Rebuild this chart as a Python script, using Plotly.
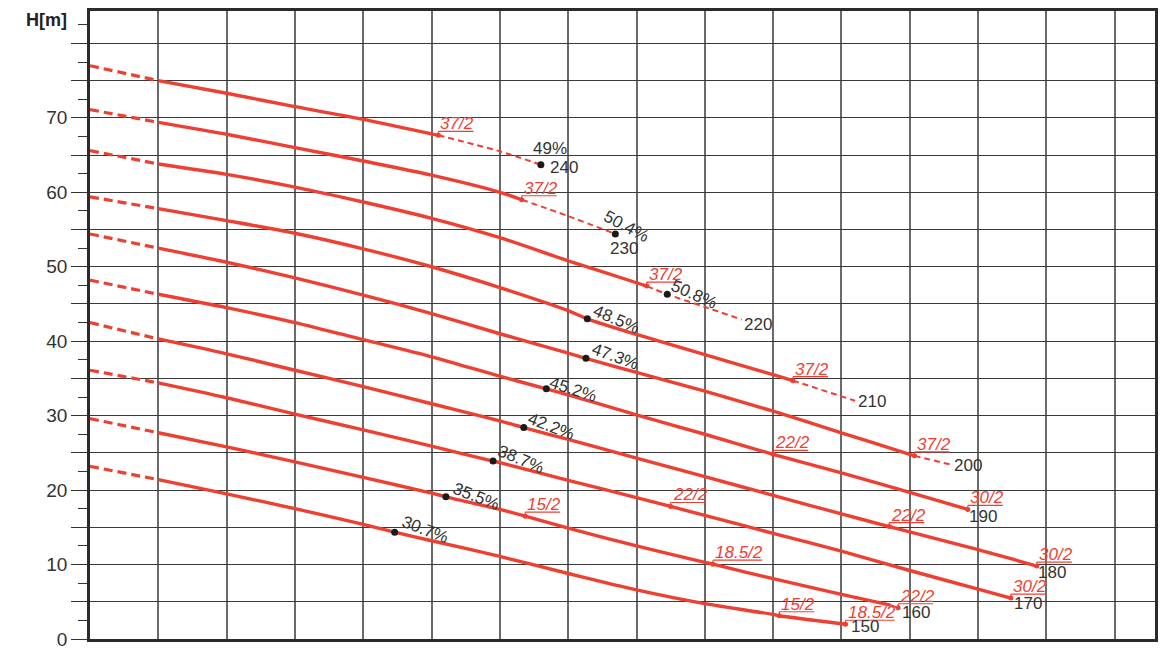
import plotly.graph_objects as go

# ---------------- data ----------------
DIAMETERS = [240, 230, 220, 210, 200, 190, 180, 170, 160, 150]

Q_240 = [0, 1, 2, 3, 4, 5, 5.10, 6, 6.60]
H_240 = [77.0, 75.0, 73.3, 71.5, 69.8, 67.85, 67.65, 65.5, 63.7]

Q_230 = [0, 1, 2, 3, 4, 5, 6, 6.32, 7, 7.69]
H_230 = [71.1, 69.4, 67.8, 66.0, 64.2, 62.3, 60.0, 59.0, 56.8, 54.4]

Q_220 = [0, 1, 2, 3, 4, 5, 6, 7, 8, 8.15, 8.45, 9, 9.54]
H_220 = [65.6, 63.8, 62.4, 60.7, 58.7, 56.5, 53.9, 50.8, 47.85, 47.4, 46.3, 44.6, 42.9]

Q_210 = [0, 1, 2, 3, 4, 5, 6, 7, 7.28, 8, 9, 10, 10.29, 11.2]
H_210 = [59.4, 57.8, 56.2, 54.5, 52.4, 50.0, 47.2, 44.1, 43.0, 40.9, 38.2, 35.5, 34.7, 32.0]

Q_200 = [0, 1, 2, 3, 4, 5, 6, 7, 7.26, 8, 9, 10, 11, 12, 12.07, 12.61]
H_200 = [54.4, 52.5, 50.6, 48.5, 46.2, 43.7, 41.0, 38.4, 37.7, 35.8, 33.3, 30.6, 27.7, 24.8, 24.6, 23.4]

Q_190 = [0, 1, 2, 3, 4, 5, 6, 6.68, 7, 8, 9, 10, 11, 12, 12.85]
H_190 = [48.2, 46.3, 44.5, 42.5, 40.2, 37.9, 35.3, 33.6, 32.8, 30.1, 27.5, 24.8, 22.3, 19.7, 17.4]

Q_180 = [0, 1, 2, 3, 4, 5, 6, 6.35, 7, 8, 9, 10, 11, 11.70, 12, 13, 13.86]
H_180 = [42.5, 40.3, 38.3, 36.1, 33.9, 31.6, 29.3, 28.4, 26.8, 24.3, 21.8, 19.3, 16.8, 15.1, 14.4, 12.0, 9.8]

Q_170 = [0, 1, 2, 3, 4, 5, 5.90, 6, 7, 8, 8.50, 9, 10, 11, 12, 13, 13.48]
H_170 = [36.1, 34.4, 32.4, 30.2, 28.1, 25.9, 23.9, 23.7, 21.3, 19.0, 17.8, 16.6, 14.2, 11.8, 9.2, 6.7, 5.5]

Q_160 = [0, 1, 2, 3, 4, 5, 5.21, 6, 6.37, 7, 8, 9, 9.12, 10, 11, 11.72, 11.83]
H_160 = [29.6, 27.7, 25.8, 23.8, 21.7, 19.6, 19.1, 17.4, 16.5, 14.9, 12.5, 10.3, 10.05, 8.1, 6.0, 4.55, 4.2]

Q_150 = [0, 1, 2, 3, 4, 4.46, 5, 6, 7, 8, 9, 10, 10.09, 11.06]
H_150 = [23.2, 21.4, 19.5, 17.5, 15.4, 14.35, 13.2, 11.1, 8.8, 6.6, 4.75, 3.3, 3.12, 1.98]

CURVE_Q = [Q_240, Q_230, Q_220, Q_210, Q_200, Q_190, Q_180, Q_170, Q_160, Q_150]
CURVE_H = [H_240, H_230, H_220, H_210, H_200, H_190, H_180, H_170, H_160, H_150]

RANGE_START = 1.0
RANGE_END = [5.10, 6.32, 8.15, 10.29, 12.07, 12.85, 13.86, 13.48, 11.72, 11.06]

EFF_Q = [6.60, 7.69, 8.45, 7.28, 7.26, 6.68, 6.35, 5.90, 5.21, 4.46]
EFF_H = [63.7, 54.4, 46.3, 43.0, 37.7, 33.6, 28.4, 23.9, 19.1, 14.35]
EFF_LABEL = ['49%', '50.4%', '50.8%', '48.5%', '47.3%', '45.2%', '42.2%', '38.7%', '35.5%', '30.7%']

MOTOR_Q = [5.10, 6.32, 8.15, 10.29, 12.07, 10.0, 12.85, 11.70, 13.86, 8.50, 13.48, 6.37, 9.12, 11.83, 10.09, 11.06]
MOTOR_H = [67.65, 59.0, 47.4, 34.7, 24.6, 24.8, 17.4, 15.1, 9.8, 17.8, 5.5, 16.5, 10.05, 4.2, 3.12, 1.98]
MOTOR_LABEL = ['37/2', '37/2', '37/2', '37/2', '37/2', '22/2', '30/2', '22/2', '30/2',
               '22/2', '30/2', '15/2', '18.5/2', '22/2', '15/2', '18.5/2']

Y_TICKS = [0, 5, 10, 15, 20, 25, 30, 35, 40, 45, 50, 55, 60, 65, 70, 75, 80]
Y_TICK_TEXT = ['0', '', '10', '', '20', '', '30', '', '40', '', '50', '', '60', '', '70', '', '']
Y_MINOR = [2.5, 7.5, 12.5, 17.5, 22.5, 27.5, 32.5, 37.5, 42.5, 47.5, 52.5, 57.5, 62.5, 67.5, 72.5, 77.5, 82.5]
X_GRID = list(range(0, 16))

# ---------------- styles / layout helpers ----------------
RED = '#EE4032'
DARK = '#2b2b2b'
TXT = '#333333'
BASE_FONT = 'Liberation Sans, Arial, sans-serif'
MOTOR_SIZE = 17

# label offsets in pixels (dx right, dy down)
DIA_OFFSET = [(8, 3), (-6, 15), (1, 5), (2, 0.5), (2, 1), (0, 7.5), (0, 6.5), (2, 5), (3, 5), (4, 2.5)]
EFF_OFFSET = [(9, -16, 0), (11, -7, 28), (27, 0, 24), (29, 1, 23), (29, -1.5, 20),
              (27, 1, 18), (27.5, -1, 21), (28, -2, 23), (30, 0, 21), (30, -2.5, 21)]


def seg(q, h, lo, hi):
    pts = [(a, b) for a, b in zip(q, h) if lo - 1e-9 <= a <= hi + 1e-9]
    return [p[0] for p in pts], [p[1] for p in pts]


def text_width(s, size):
    return sum((0.278 if c in './' else 0.556) * size for c in s)


fig = go.Figure()

for q, h, end in zip(CURVE_Q, CURVE_H, RANGE_END):
    xq, yh = seg(q, h, q[0], RANGE_START)
    fig.add_trace(go.Scatter(x=xq, y=yh, mode='lines',
                             line=dict(color=RED, width=3.2, dash='9px,5px', shape='spline', smoothing=0.8),
                             hoverinfo='skip', showlegend=False))
    xq, yh = seg(q, h, RANGE_START, end)
    fig.add_trace(go.Scatter(x=xq, y=yh, mode='lines',
                             line=dict(color=RED, width=3.4, shape='spline', smoothing=0.8),
                             hoverinfo='skip', showlegend=False))
    if q[-1] > end + 1e-9:
        xq, yh = seg(q, h, end, q[-1])
        fig.add_trace(go.Scatter(x=xq, y=yh, mode='lines',
                                 line=dict(color=RED, width=2, dash='6px,4px', shape='spline', smoothing=0.8),
                                 hoverinfo='skip', showlegend=False))

fig.add_trace(go.Scatter(x=MOTOR_Q, y=MOTOR_H, mode='markers',
                         marker=dict(color=RED, size=5), hoverinfo='skip', showlegend=False))
fig.add_trace(go.Scatter(x=EFF_Q, y=EFF_H, mode='markers',
                         marker=dict(color='#1a1a1a', size=7), hoverinfo='skip', showlegend=False))

annotations = []
shapes = []

for q, h, d, (dx, dy) in zip(CURVE_Q, CURVE_H, DIAMETERS, DIA_OFFSET):
    annotations.append(dict(x=q[-1], y=h[-1], xref='x', yref='y', text=str(d), showarrow=False,
                            xanchor='left', yanchor='middle', xshift=dx - 1, yshift=-dy,
                            font=dict(family=BASE_FONT, size=17, color=TXT)))

for q, h, t, (dx, dy, ang) in zip(EFF_Q, EFF_H, EFF_LABEL, EFF_OFFSET):
    annotations.append(dict(x=q, y=h, xref='x', yref='y', text=t, showarrow=False,
                            xanchor='center', yanchor='middle', xshift=dx, yshift=-dy, textangle=ang,
                            font=dict(family=BASE_FONT, size=17, color=TXT)))

for q, h, t in zip(MOTOR_Q, MOTOR_H, MOTOR_LABEL):
    annotations.append(dict(x=q, y=h, xref='x', yref='y', text='<i>' + t + '</i>', showarrow=False,
                            xanchor='left', yanchor='bottom', xshift=0, yshift=0,
                            font=dict(family=BASE_FONT, size=MOTOR_SIZE, color=RED)))
    w = text_width(t, MOTOR_SIZE) + 2
    shapes.append(dict(type='line', xref='x', yref='y', xsizemode='pixel', ysizemode='pixel',
                       xanchor=q, yanchor=h, x0=0, x1=w, y0=4, y1=4,
                       line=dict(color=RED, width=1.2)))
    shapes.append(dict(type='line', xref='x', yref='y', xsizemode='pixel', ysizemode='pixel',
                       xanchor=q, yanchor=h, x0=0, x1=0, y0=0, y1=4,
                       line=dict(color=RED, width=1.2)))

annotations.append(dict(x=0, y=1, xref='paper', yref='paper', text='<b>H[m]</b>', showarrow=False,
                        xanchor='right', yanchor='middle', xshift=-21, yshift=-9,
                        font=dict(family=BASE_FONT, size=18, color='#222222')))

# the page body has an 8px margin, so the figure is sized to sit at the same place
fig.update_layout(
    width=1168, height=642,
    margin=dict(l=82, r=21, t=0, b=8),
    paper_bgcolor='white', plot_bgcolor='white',
    showlegend=False,
    annotations=annotations,
    shapes=shapes,
    xaxis=dict(range=[0, 15.59], tickmode='array', tickvals=X_GRID, showticklabels=False,
               ticks='', showgrid=True, gridcolor='#6a6a6a', gridwidth=1.5, zeroline=False,
               showline=True, linecolor=DARK, linewidth=2.5, mirror=True, fixedrange=True),
    yaxis=dict(range=[0, 84.35], tickmode='array', tickvals=Y_TICKS, ticktext=Y_TICK_TEXT,
               ticks='outside', ticklen=16, tickwidth=1.3, tickcolor='#333333',
               tickfont=dict(family=BASE_FONT, size=19, color=TXT), ticklabeloverflow='allow',
               showgrid=True, gridcolor='#3a3a3a', gridwidth=1.3, zeroline=False,
               showline=True, linecolor=DARK, linewidth=2.5, mirror=True,
               minor=dict(tickmode='array', tickvals=Y_MINOR, ticks='outside', ticklen=9,
                          tickwidth=1.3, tickcolor='#333333', showgrid=False),
               fixedrange=True),
)

fig.write_html('out.html')
